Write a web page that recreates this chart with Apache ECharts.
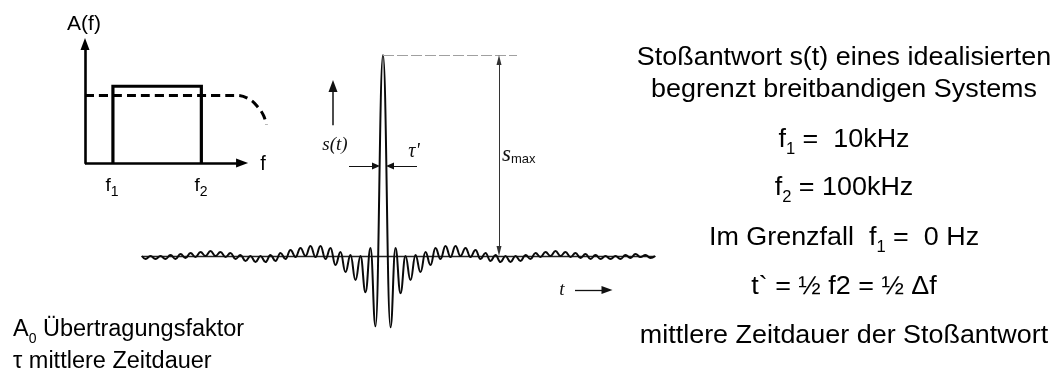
<!DOCTYPE html>
<html>
<head>
<meta charset="utf-8">
<script src="https://cdn.jsdelivr.net/npm/echarts@6/dist/echarts.min.js"></script>
<style>
  html, body { margin: 0; padding: 0; background: #fff; }
  #chart { width: 1056px; height: 372px; }
</style>
</head>
<body>
<div id="chart"></div>
<script>
// Impulse response s(t): t in µs, s in % of s_max (extrema of each oscillation)
const tValues = [
  -241, -237.5, -232.5, -227.5, -222.5, -217.5, -212.5, -207.5, -202.5, -197.5,
  -192.5, -187.5, -182.5, -177.5, -172.5, -167.5, -162.5, -157.5, -152.5, -147.5,
  -142.5, -137.5, -132.5, -127.5, -122.5, -117.5, -112.5, -107.5, -102.5, -97.5,
  -92.5, -87.5, -82.5, -77.5, -72.5, -67.5, -62.5, -57.5, -52.5, -47.5,
  -42.5, -37.5, -32.5, -27.5, -22.5, -17.5, -12.5, -7.5, 0,
  7.5, 12.5, 17.5, 22.5, 27.5, 32.5, 37.5, 42.5, 47.5,
  52.5, 57.5, 62.5, 67.5, 72.5, 77.5, 82.5, 87.5, 92.5, 97.5,
  102.5, 107.5, 112.5, 117.5, 122.5, 127.5, 132.5, 137.5, 142.5, 147.5,
  152.5, 157.5, 162.5, 167.5, 172.5, 177.5, 182.5, 187.5, 192.5, 197.5,
  202.5, 207.5, 212.5, 217.5, 222.5, 227.5, 232.5, 237.5, 242.5, 247.5,
  252.5, 257.5, 262.5, 267.5, 272
];
const sValues = [
  0, -1.5, 0, -1.5, 0, -1.5, 0.5, -1.5, 1, -1,
  1.5, -0.5, 2, 0, 2.5, 0, 2, -0.5, 1.5, -1.5,
  0.5, -2.5, 0, -3, 0, -3, 0.5, -2.5, 1.5, -1.5,
  3, -0.5, 4, 0, 5, -0.5, 5, -1.5, 4, -4.5,
  2, -8, 0.5, -12, 0, -18, 4, -35, 100,
  -35.5, 4, -18.5, 0, -12, 0.5, -8, 2, -4.5,
  4, -1.5, 5, -0.5, 5, 0, 4, -0.5, 3, -1.5,
  1.5, -2.5, 0.5, -3, 0, -3, 0, -2.5, 0.5, -1.5,
  1.5, -0.5, 2, 0, 2.5, 0, 2, -0.5, 1.5, -1,
  1, -1.5, 0.5, -1.5, 0, -1.5, 0, -1.5, 0.5, -1,
  1, -0.5, 0.5, -1, 0
];

// Sketch of the transfer function A(f): band-pass f1..f2 and ideal low-pass
const bandF = [24, 24, 100, 100];
const bandA = [0, 1, 1, 0];
const lowpassF = [0, 130.3, 141.4, 149.1, 153.4, 156];
const lowpassA = [0.88, 0.88, 0.83, 0.72, 0.62, 0.5];
const fAxisEnd = 135;

// Text block on the right
const infoLines = [
  'Stoßantwort s(t) eines idealisierten',
  'begrenzt breitbandigen Systems',
  '{m|f}{sub|1}{m| =  10kHz}',
  '{m|f}{sub|2}{m| = 100kHz}',
  '{m|Im Grenzfall  f}{sub|1}{m| =  0 Hz}',
  't` = ½ f2 = ½ Δf',
  'mittlere Zeitdauer der Stoßantwort'
];
const infoY = [58, 90, 140, 188, 238, 287, 336];
const legendLines = [
  '{m|A}{sub|0}{m| Übertragungsfaktor}',
  'τ mittlere Zeitdauer'
];

const SANS = 'Liberation Sans, Arial, sans-serif';
const SERIF = 'Liberation Serif, Times New Roman, serif';
const INK = '#000';

const pairs = (xs, ys) => xs.map((x, i) => [x, ys[i]]);

const arrowLine = (from, to, w, size, color) => [
  { coord: from, symbol: 'none', lineStyle: { color: color, width: w, type: 'solid' } },
  { coord: to, symbol: 'triangle', symbolSize: size }
];

const richMain = (size, lh, subRatio) => ({
  m: { fontSize: size, lineHeight: lh, fontFamily: SANS, fill: INK, verticalAlign: 'middle' },
  sub: { fontSize: Math.round(size * (subRatio || 0.6)), lineHeight: Math.round(size * 0.62), fontFamily: SANS, fill: INK, verticalAlign: 'bottom' }
});

const graphics = [];
infoLines.forEach((line, i) => {
  graphics.push({
    type: 'text', x: 844, y: infoY[i], scaleX: 1.035,
    style: {
      text: line.indexOf('{') === 0 ? line : '{m|' + line + '}',
      align: 'center', verticalAlign: 'middle',
      rich: richMain(26, 36)
    }
  });
});
legendLines.forEach((line, i) => {
  graphics.push({
    type: 'text', x: 13, y: [330, 362][i],
    style: {
      text: line.indexOf('{') === 0 ? line : '{m|' + line + '}',
      align: 'left', verticalAlign: 'middle',
      rich: richMain(23.5, 32)
    }
  });
});
// Labels of the A(f) sketch
graphics.push(
  { type: 'text', x: 84, y: 24, style: { text: 'A(f)', font: '21px ' + SANS, fill: INK, align: 'center', verticalAlign: 'middle' } },
  { type: 'text', x: 263, y: 164, style: { text: 'f', font: '20px ' + SANS, fill: INK, align: 'center', verticalAlign: 'middle' } },
  { type: 'text', x: 112, y: 186, style: { text: '{m|f}{sub|1}', align: 'center', verticalAlign: 'middle', rich: richMain(19, 26, 0.74) } },
  { type: 'text', x: 201, y: 186, style: { text: '{m|f}{sub|2}', align: 'center', verticalAlign: 'middle', rich: richMain(19, 26, 0.74) } }
);
// Labels of the impulse response drawing
graphics.push(
  { type: 'text', x: 335, y: 145, style: { text: 's(t)', font: 'italic 19px ' + SERIF, fill: '#111', align: 'center', verticalAlign: 'middle' } },
  { type: 'text', x: 414, y: 152, style: { text: 'τ\'', font: 'italic 20px ' + SERIF, fill: '#111', align: 'center', verticalAlign: 'middle' } },
  { type: 'text', x: 502, y: 155, style: {
      text: '{s|s}{mx|max}', align: 'left', verticalAlign: 'middle',
      rich: {
        s: { fontSize: 23, lineHeight: 22, fontFamily: SERIF, fontStyle: 'italic', fill: '#111', verticalAlign: 'middle' },
        mx: { fontSize: 13, lineHeight: 13, fontFamily: SANS, fill: '#111', verticalAlign: 'bottom' }
      } } },
  { type: 'text', x: 562, y: 290, style: { text: 't', font: 'italic 19px ' + SERIF, fill: '#111', align: 'center', verticalAlign: 'middle' } }
);

const chart = echarts.init(document.getElementById('chart'), null, { renderer: 'canvas' });
chart.setOption({
  animation: false,
  backgroundColor: '#fff',
  grid: [
    { left: 142, top: 55, width: 513, height: 281.4 },
    { left: 85, top: 44, width: 185, height: 119 }
  ],
  xAxis: [
    {
      gridIndex: 0, type: 'value', min: -241, max: 272,
      axisLine: { show: true, onZero: true, lineStyle: { color: '#222', width: 1.3 } },
      axisTick: { show: false }, axisLabel: { show: false }, splitLine: { show: false }
    },
    {
      gridIndex: 1, type: 'value', min: 0, max: 159,
      axisLine: { show: false },
      axisTick: { show: false }, axisLabel: { show: false }, splitLine: { show: false }
    }
  ],
  yAxis: [
    { gridIndex: 0, type: 'value', min: -40, max: 100, show: false, splitLine: { show: false } },
    {
      gridIndex: 1, type: 'value', min: 0, max: 1.55,
      axisLine: { show: true, onZero: true, symbol: ['none', 'triangle'], symbolSize: [9, 12],
        lineStyle: { color: INK, width: 2.6 } },
      axisTick: { show: false }, axisLabel: { show: false }, splitLine: { show: false }
    }
  ],
  series: [
    {
      type: 'line', xAxisIndex: 0, yAxisIndex: 0,
      data: pairs(tValues, sValues),
      smooth: 0.45, smoothMonotone: 'x',
      symbol: 'none', clip: false,
      lineStyle: { color: '#0a0a0a', width: 2 },
      markLine: {
        silent: true, animation: false,
        label: { show: false },
        emphasis: { disabled: true },
        symbol: ['none', 'none'],
        data: [
          // s_max reference level
          [ { coord: [0, 100], symbol: 'none', lineStyle: { color: '#a0a0a0', width: 1, type: [11, 3] } },
            { coord: [134, 100], symbol: 'none' } ],
          // s_max double arrow
          [ { coord: [116, 97.5], symbol: 'triangle', symbolSize: [5, 10], lineStyle: { color: '#333', width: 1, type: 'solid' } },
            { coord: [116, 2.5], symbol: 'triangle', symbolSize: [5, 10] } ],
          // s(t) axis arrow
          arrowLine([-50, 65], [-50, 84.6], 1.5, [9, 12], '#111'),
          // tau' width arrows
          arrowLine([-34, 44.8], [-7, 44.8], 1, [7, 8], '#111'),
          arrowLine([34, 44.8], [7, 44.8], 1, [7, 8], '#111'),
          // time arrow
          arrowLine([192, -16.9], [224, -16.9], 1.3, [8, 11], '#111')
        ]
      }
    },
    {
      type: 'line', xAxisIndex: 1, yAxisIndex: 1,
      data: pairs(lowpassF, lowpassA),
      smooth: 0.4, symbol: 'none', clip: false,
      lineStyle: { color: INK, width: 3, type: [9, 5], cap: 'butt' }
    },
    {
      type: 'line', xAxisIndex: 1, yAxisIndex: 1,
      data: pairs(bandF, bandA),
      symbol: 'none', clip: false,
      lineStyle: { color: INK, width: 3.2, join: 'miter' },
      markLine: {
        silent: true, animation: false,
        label: { show: false },
        emphasis: { disabled: true },
        data: [
          // frequency axis with arrow
          arrowLine([0, 0], [fAxisEnd, 0], 2.6, [9, 12], INK)
        ]
      }
    }
  ],
  graphic: { elements: graphics }
});
</script>
</body>
</html>
